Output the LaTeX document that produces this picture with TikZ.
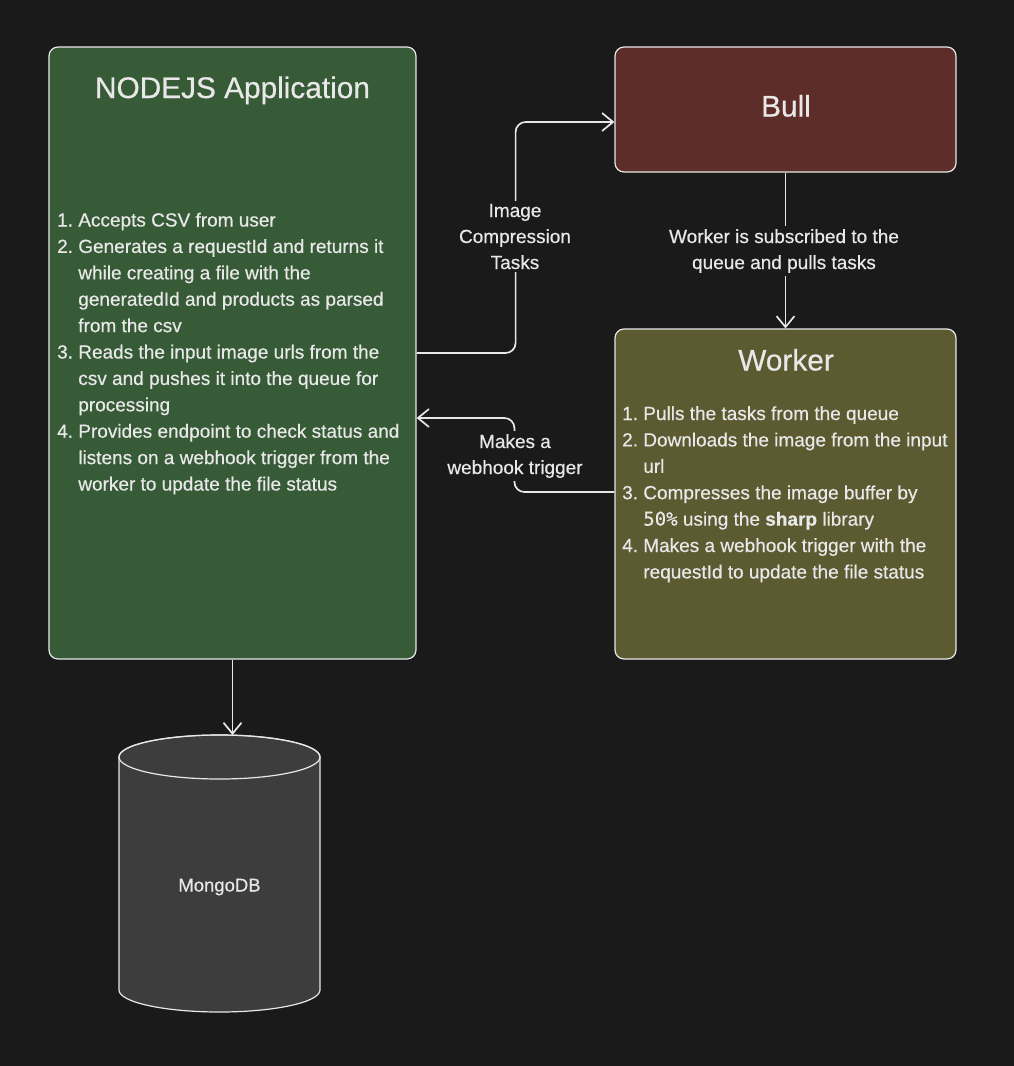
\documentclass[tikz,border=0pt]{standalone}
\usepackage{fontspec}
\setmainfont{Liberation Sans}[RawFeature={embolden=0.5}]
\setmonofont{DejaVu Sans Mono}[RawFeature={embolden=0.5}]
\usetikzlibrary{arrows.meta}
\definecolor{bg}{HTML}{1A1A1A}
\definecolor{nodegreen}{HTML}{375B37}
\definecolor{bullred}{HTML}{5C2D29}
\definecolor{workerolive}{HTML}{5B5A31}
\definecolor{dbgray}{HTML}{3D3D3D}
\definecolor{strokec}{HTML}{E8E8E8}
\definecolor{txt}{HTML}{E8E8E8}
\begin{document}
\begin{tikzpicture}[x=1pt,y=-1pt,
  box/.style={draw=strokec, line width=1.2pt, rounded corners=9pt, inner sep=0pt},
  arr/.style={draw=strokec, line width=1.7pt, -{Straight Barb[length=11pt,width=18pt]}, rounded corners=10pt},
  ttl/.style={text=txt, font=\fontsize{29.8}{34}\selectfont, anchor=base, inner sep=0pt},
  lst/.style={text=txt, font=\fontsize{19}{26.4}\selectfont, anchor=base west, inner sep=0pt},
  lbl/.style={text=txt, fill=bg, font=\fontsize{19}{26}\selectfont, anchor=base, inner sep=3pt}]

\fill[bg] (0,0) rectangle (1014,1066);
\useasboundingbox (0,0) rectangle (1014,1066);

% boxes
\node[box, fill=nodegreen, minimum width=367pt, minimum height=612pt] (nodejs) at (232.5,353) {};
\node[box, fill=bullred, minimum width=341pt, minimum height=125pt] (bull) at (785.5,109.5) {};
\node[box, fill=workerolive, minimum width=341pt, minimum height=330pt] (worker) at (785.5,494) {};

% titles
\node[ttl] (nodejsTitle) at (232.5,98) {NODEJS Application};
\node[ttl] (bullTitle) at (786,116.5) {Bull};
\node[ttl] (workerTitle) at (786,370.5) {Worker};

% lists
\node[lst] (nodejsList) at (57,226.5) {\parbox[t]{400pt}{\raggedright
1.\ Accepts CSV from user\\
2.\ Generates a requestId and returns it\\
\hphantom{2.\ }while creating a file with the\\
\hphantom{2.\ }generatedId and products as parsed\\
\hphantom{2.\ }from the csv\\
3.\ Reads the input image urls from the\\
\hphantom{3.\ }csv and pushes it into the queue for\\
\hphantom{3.\ }processing\\
4.\ Provides endpoint to check status and\\
\hphantom{4.\ }listens on a webhook trigger from the\\
\hphantom{4.\ }worker to update the file status}};

\node[lst] (workerList) at (622,420) {\parbox[t]{400pt}{\raggedright
1.\ Pulls the tasks from the queue\\
2.\ Downloads the image from the input\\
\hphantom{2.\ }url\\
3.\ Compresses the image buffer by\\
\hphantom{3.\ }{\ttfamily 50\%} using the \textbf{sharp} library\\
4.\ Makes a webhook trigger with the\\
\hphantom{4.\ }requestId to update the file status}};

% MongoDB cylinder
\filldraw[fill=dbgray, draw=strokec, line width=1.2pt]
  (119,757) -- (119,990) arc (180:360:100.5pt and 22pt) -- (320,757) arc (0:180:100.5pt and 22pt) -- cycle;
\draw[strokec, line width=1.2pt] (219.5,757) ellipse [x radius=100.5pt, y radius=22pt];
\node[text=txt, font=\fontsize{18.5}{22}\selectfont, anchor=base] (mongo) at (219.5,891.5) {MongoDB};
\coordinate (mongotop) at (232,735);

% connectors
\draw[arr] (nodejs.east) -- ++(99,0) |- ([yshift=-12.5pt]bull.west);
\draw[arr] (bull.south) -- (worker.north);
\draw[arr] ([yshift=2pt]worker.west) -- ++(-100,0) |- ([yshift=-65pt]nodejs.east);
\draw[arr] (nodejs.south) -- (nodejs.south |- mongotop);

% connector labels
\node[lbl] (lblTasks) at (515,217) {\parbox[t]{116pt}{\centering Image\\Compression\\Tasks}};
\node[lbl] (lblSub) at (784,243) {\parbox[t]{236pt}{\centering Worker is subscribed to the\\queue and pulls tasks}};
\node[lbl] (lblHook) at (515,448) {\parbox[t]{140pt}{\centering Makes a\\webhook trigger}};
\end{tikzpicture}
\end{document}
